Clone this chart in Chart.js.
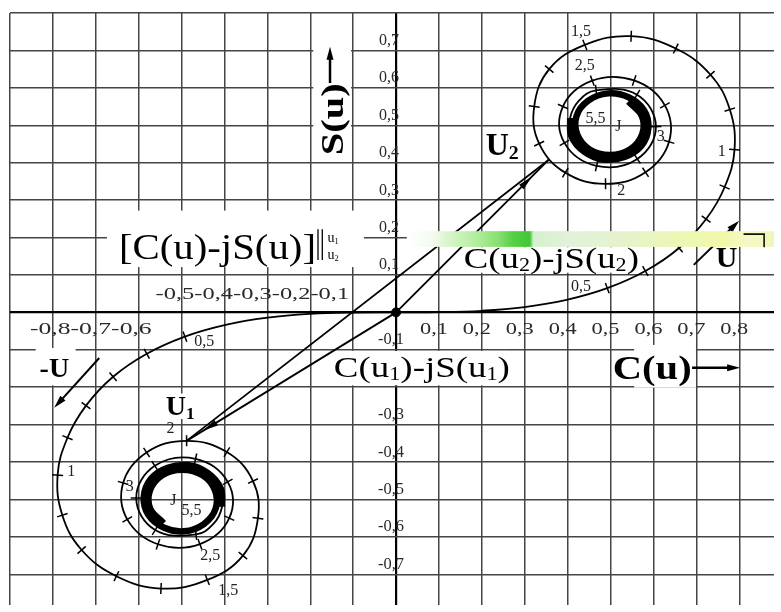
<!DOCTYPE html>
<html>
<head>
<meta charset="utf-8">
<title>Спираль Корню</title>
<script src="https://cdn.jsdelivr.net/npm/chart.js@4.4.1/dist/chart.umd.min.js"></script>
<style>
  html, body { margin: 0; padding: 0; background: #fff; }
  #wrap { width: 781px; height: 612px; }
</style>
</head>
<body>
<div id="wrap"><canvas id="cornu" width="781" height="612"></canvas></div>
<script>
// Fresnel integrals C(u), S(u) along the spiral for u >= 0; the u < 0 branch is its point mirror.
// Past u = 3.2 the spiral winds fast, so the step is halved there.
const uValues = [0.0, 0.1, 0.2, 0.3, 0.4, 0.5, 0.6, 0.7, 0.8, 0.9,
                 1.0, 1.1, 1.2, 1.3, 1.4, 1.5, 1.6, 1.7, 1.8, 1.9,
                 2.0, 2.1, 2.2, 2.3, 2.4, 2.5, 2.6, 2.7, 2.8, 2.9,
                 3.0, 3.1, 3.2, 3.25, 3.3, 3.35, 3.4, 3.45, 3.5, 3.55,
                 3.6, 3.65, 3.7, 3.75, 3.8, 3.85, 3.9, 3.95, 4.0, 4.05,
                 4.1, 4.15, 4.2];
const cValues = [0.0, 0.0999, 0.1999, 0.2994, 0.3975, 0.4923, 0.5811, 0.6597, 0.7228, 0.766,
                 0.789, 0.778, 0.733, 0.652, 0.548, 0.440, 0.357, 0.322, 0.3336, 0.3945,
                 0.4883, 0.5816, 0.6363, 0.6266, 0.5550, 0.4574, 0.3889, 0.3925, 0.4675, 0.5624,
                 0.6057, 0.5616, 0.4663, 0.4259, 0.4057, 0.4089, 0.4385, 0.4828, 0.5326, 0.5716,
                 0.5880, 0.5780, 0.5420, 0.4940, 0.4481, 0.4207, 0.4223, 0.4510, 0.4984, 0.5451,
                 0.5737, 0.5730, 0.5418];
const sValues = [0.0, 0.0005, 0.0042, 0.0141, 0.0334, 0.0647, 0.1105, 0.1721, 0.2493, 0.335,
                 0.435, 0.542, 0.635, 0.705, 0.738, 0.715, 0.650, 0.550, 0.4509, 0.3734,
                 0.3434, 0.3743, 0.4557, 0.5532, 0.6197, 0.6192, 0.5500, 0.4529, 0.3915, 0.4101,
                 0.4963, 0.5818, 0.5934, 0.5654, 0.5193, 0.4703, 0.4297, 0.4086, 0.4153, 0.4449,
                 0.4923, 0.5403, 0.5750, 0.5852, 0.5656, 0.5250, 0.4752, 0.4355, 0.4205, 0.4352,
                 0.4758, 0.5247, 0.5633];

// the two marked points U1 (u = -2) and U2 (u = 1.85)
const markedU = [-2.0, 1.85];
const markedC = [-0.4883, 0.356];
const markedS = [-0.3434, 0.408];

// grid and axis labels
const xGrid = [-0.9, -0.8, -0.7, -0.6, -0.5, -0.4, -0.3, -0.2, -0.1, 0, 0.1, 0.2, 0.3, 0.4, 0.5, 0.6, 0.7, 0.8];
const yGrid = [-0.7, -0.6, -0.5, -0.4, -0.3, -0.2, -0.1, 0, 0.1, 0.2, 0.3, 0.4, 0.5, 0.6, 0.7, 0.8];
const xRightValues = [0.1, 0.2, 0.3, 0.4, 0.5, 0.6, 0.7, 0.8];
const xRightLabels = ['0,1', '0,2', '0,3', '0,4', '0,5', '0,6', '0,7', '0,8'];
const xNearLabels = ['-0,5', '-0,4', '-0,3', '-0,2', '-0,1'];
const xFarLabels = ['-0,8', '-0,7', '-0,6'];
const yUpValues = [0.1, 0.2, 0.3, 0.4, 0.5, 0.6, 0.7];
const yUpLabels = ['0,1', '0,2', '0,3', '0,4', '0,5', '0,6', '0,7'];
const yDownValues = [-0.1, -0.3, -0.4, -0.5, -0.6, -0.7];
const yDownLabels = ['-0,1', '-0,3', '-0,4', '-0,5', '-0,6', '-0,7'];

// parameter values written beside the spiral
const tagText = ['0,5', '1', '1,5', '2', '2,5', '3', '5,5', 'J'];
const tagUpperC = [0.431, 0.759, 0.431, 0.525, 0.440, 0.617, 0.465, 0.518];
const tagUpperS = [0.069, 0.430, 0.750, 0.325, 0.658, 0.470, 0.518, 0.496];
const tagLowerC = [-0.447, -0.757, -0.391, -0.526, -0.433, -0.621, -0.477, -0.519];
const tagLowerS = [-0.079, -0.425, -0.745, -0.312, -0.650, -0.465, -0.531, -0.504];

const FAMILY = '"Liberation Serif", "Times New Roman", serif';

const spiralPos = uValues.map((u, i) => ({ x: cValues[i], y: sValues[i] }));
const spiralNeg = uValues.map((u, i) => ({ x: -cValues[i], y: -sValues[i] })).reverse();
const spiral = spiralNeg.concat(spiralPos.slice(1));

// tightly wound part near the limit points is drawn heavy
const coreFrom = uValues.findIndex(u => u > 3.27);
const corePos = spiralPos.slice(coreFrom);
const coreNeg = corePos.map(p => ({ x: -p.x, y: -p.y }));

// short cross marks every 0.1 of u
const tickMarks = [];
uValues.forEach((u, i) => {
  const tenth = Math.abs(u * 10 - Math.round(u * 10)) < 1e-6;
  if (!tenth || u < 0.45 || u > 3.25) return;
  tickMarks.push({ x: cValues[i], y: sValues[i], i });
  tickMarks.push({ x: -cValues[i], y: -sValues[i], i });
});

const origin = { x: 0, y: 0 };
const p1 = { x: markedC[0], y: markedS[0] };
const p2 = { x: markedC[1], y: markedS[1] };

function drawRich(ctx, parts, x, y, o) {
  const size = o.size, weight = o.weight || 'normal';
  let natural = 0;
  const widths = parts.map(([t, k]) => {
    ctx.font = `${weight} ${size * k}px ${FAMILY}`;
    const w = ctx.measureText(t).width;
    natural += w;
    return w;
  });
  const sx = o.width ? o.width / natural : 1;
  ctx.save();
  ctx.translate(x, y);
  if (o.angle) ctx.rotate(o.angle * Math.PI / 180);
  ctx.scale(sx, 1);
  let cx = o.align === 'center' ? -natural / 2 : 0;
  ctx.fillStyle = o.color || '#000';
  ctx.textAlign = 'left';
  ctx.textBaseline = o.baseline || 'alphabetic';
  parts.forEach(([t, k, dy], j) => {
    ctx.font = `${weight} ${size * k}px ${FAMILY}`;
    ctx.fillText(t, cx, (dy || 0) * size);
    cx += widths[j];
  });
  ctx.restore();
}

function arrowHead(ctx, tx, ty, dx, dy, len, half) {
  const d = Math.hypot(dx, dy);
  const ux = dx / d, uy = dy / d;
  ctx.beginPath();
  ctx.moveTo(tx, ty);
  ctx.lineTo(tx - ux * len - uy * half, ty - uy * len + ux * half);
  ctx.lineTo(tx - ux * len + uy * half, ty - uy * len - ux * half);
  ctx.closePath();
  ctx.fill();
}

// labels in data coordinates (left end of the baseline)
const notes = [
  { parts: [['[C(u)-jS(u)]', 1]], c: -0.646, s: 0.143, size: 35, width: 197 },
  { parts: [['u', 1], ['1', 0.6, 0.15]], c: -0.160, s: 0.187, size: 14 },
  { parts: [['u', 1], ['2', 0.6, 0.15]], c: -0.160, s: 0.143, size: 14 },
  { parts: [['S(u)', 1]], c: -0.124, s: 0.420, size: 31, weight: 'bold', width: 72, angle: -90 },
  { parts: [['U', 1], ['2', 0.62, 0.12]], c: 0.209, s: 0.420, size: 32, weight: 'bold' },
  { parts: [['U', 1], ['1', 0.62, 0.12]], c: -0.537, s: -0.275, size: 28, weight: 'bold' },
  { parts: [['-U', 1]], c: -0.831, s: -0.174, size: 28, weight: 'bold' },
  { parts: [['U', 1]], c: 0.745, s: 0.121, size: 30, weight: 'bold' },
  { parts: [['C(u', 1], ['2', 0.6, 0.1], [')-jS(u', 1], ['2', 0.6, 0.1], [')', 1]], c: 0.158, s: 0.119, size: 30, width: 175 },
  { parts: [['C(u', 1], ['1', 0.6, 0.1], [')-jS(u', 1], ['1', 0.6, 0.1], [')', 1]], c: -0.145, s: -0.172, size: 30, width: 176 },
  { parts: [['C(u)', 1]], c: 0.505, s: -0.177, size: 34, weight: 'bold', width: 79 }
];

// white patches behind the labels [c0, s0, c1, s1]
const patches = [
  [-0.674, 0.272, -0.075, 0.121],
  [-0.193, 0.716, -0.105, 0.412],
  [0.555, -0.087, 0.699, -0.201],
  [-0.145, -0.103, 0.262, -0.195],
  [0.154, 0.174, 0.567, 0.106],
  [-0.542, -0.217, -0.461, -0.285],
  [-0.840, -0.095, -0.747, -0.195]
];

// direction arrows [c0, s0, c1, s1, lineWidth]
const arrows = [
  [0.694, 0.127, 0.800, 0.245, 2],
  [-0.692, -0.122, -0.797, -0.255, 2],
  [0.690, -0.148, 0.802, -0.148, 2.5],
  [-0.154, 0.613, -0.154, 0.710, 2.5]
];

const annotate = {
  id: 'annotate',
  beforeDraw(chart) {
    const ctx = chart.ctx;
    ctx.save();
    ctx.fillStyle = '#fff';
    ctx.fillRect(0, 0, chart.width, chart.height);
    ctx.restore();
  },
  beforeDatasetsDraw(chart) {
    const { ctx, scales: { x, y } } = chart;
    ctx.save();
    ctx.fillStyle = '#fff';
    patches.forEach(([c0, s0, c1, s1]) => {
      const x0 = x.getPixelForValue(c0), y0 = y.getPixelForValue(s0);
      ctx.fillRect(x0, y0, x.getPixelForValue(c1) - x0, y.getPixelForValue(s1) - y0);
    });
    ctx.restore();
  },
  afterDatasetsDraw(chart) {
    const { ctx, scales: { x, y } } = chart;
    const X = v => x.getPixelForValue(v), Y = v => y.getPixelForValue(v);
    ctx.save();
    ctx.fillStyle = '#000';
    ctx.strokeStyle = '#000';

    // arrowheads on the vectors from the origin
    [[p1, 0.92], [p2, 0.89]].forEach(([p, t]) => {
      const dx = X(p.x) - X(0), dy = Y(p.y) - Y(0);
      arrowHead(ctx, X(0) + dx * t, Y(0) + dy * t, dx, dy, 15, 3.2);
    });

    arrows.forEach(([c0, s0, c1, s1, w]) => {
      const x0 = X(c0), y0 = Y(s0), x1 = X(c1), y1 = Y(s1);
      const d = Math.hypot(x1 - x0, y1 - y0);
      ctx.lineWidth = w;
      ctx.beginPath();
      ctx.moveTo(x0, y0);
      ctx.lineTo(x1 - (x1 - x0) / d * 8, y1 - (y1 - y0) / d * 8);
      ctx.stroke();
      arrowHead(ctx, x1, y1, x1 - x0, y1 - y0, 13, 3.5);
    });

    notes.forEach(n => drawRich(ctx, n.parts, X(n.c), Y(n.s), n));

    // double bar of the bracketed difference
    ctx.lineWidth = 1.3;
    [-0.182, -0.172].forEach(c => {
      ctx.beginPath();
      ctx.moveTo(X(c), Y(0.222));
      ctx.lineTo(X(c), Y(0.140));
      ctx.stroke();
    });

    // axis numbers
    const tickStyle = { size: 17, color: '#2a2a2a', align: 'center', baseline: 'middle' };
    xRightValues.forEach((v, i) =>
      drawRich(ctx, [[xRightLabels[i], 1]], X(v) - 5, Y(0) + 17, { ...tickStyle, width: 28 }));
    drawRich(ctx, [[xNearLabels.join(''), 1]], (X(-0.5) - 26 + X(-0.1) - 4) / 2, Y(0) - 18,
      { ...tickStyle, width: X(-0.1) - X(-0.5) + 22 });
    drawRich(ctx, [[xFarLabels.join(''), 1]], (X(-0.8) - 23 + X(-0.6) + 13) / 2, Y(0) + 17,
      { ...tickStyle, width: X(-0.6) - X(-0.8) + 36 });
    yUpValues.forEach((v, i) =>
      drawRich(ctx, [[yUpLabels[i], 1]], X(0) - 7, Y(v) - 10, { ...tickStyle, width: 20 }));
    yDownValues.forEach((v, i) =>
      drawRich(ctx, [[yDownLabels[i], 1]], X(0) - 5, Y(v) - 10, { ...tickStyle, width: 26 }));

    // parameter values on both branches
    const tagStyle = { size: 16, color: '#222', align: 'center', baseline: 'middle' };
    tagText.forEach((t, i) => {
      drawRich(ctx, [[t, 1]], X(tagUpperC[i]), Y(tagUpperS[i]), tagStyle);
      drawRich(ctx, [[t, 1]], X(tagLowerC[i]), Y(tagLowerS[i]), tagStyle);
    });
    ctx.restore();
  },
  afterDraw(chart) {
    const { ctx, chartArea, scales: { x, y } } = chart;
    const X = v => x.getPixelForValue(v), Y = v => y.getPixelForValue(v);
    // coloured strip across the right half
    const x0 = X(0.025), x1 = chartArea.right, y0 = Y(0.217), y1 = Y(0.175);
    const g = ctx.createLinearGradient(x0, 0, x1, 0);
    [[0, '#ffffff'], [0.07, '#f3fbef'], [0.11, '#d9f6cc'], [0.19, '#b3ee9b'], [0.25, '#86e070'],
     [0.29, '#55d044'], [0.335, '#42c735'], [0.345, '#d6f0cf'], [0.45, '#e2f2da'], [0.6, '#e5f3cb'],
     [0.75, '#edf7b2'], [0.86, '#f1f8a8'], [0.93, '#f5f9c5'], [1, '#eff6b6']]
      .forEach(([f, col]) => g.addColorStop(f, col));
    ctx.save();
    ctx.fillStyle = g;
    ctx.fillRect(x0, y0, x1 - x0, y1 - y0);
    ctx.strokeStyle = '#111';
    ctx.lineWidth = 1.6;
    ctx.beginPath();
    ctx.moveTo(X(0.81), Y(0.209));
    ctx.lineTo(X(0.858), Y(0.209));
    ctx.lineTo(X(0.858), Y(0.174));
    ctx.stroke();
    ctx.restore();
  }
};

const gridOpts = {
  color: c => (c.tick && c.tick.value === 0 ? '#000' : '#454545'),
  lineWidth: c => (c.tick && c.tick.value === 0 ? 2.2 : 1.5),
  drawTicks: false
};

new Chart(document.getElementById('cornu'), {
  type: 'scatter',
  data: {
    datasets: [
      { data: spiral, showLine: true, borderColor: '#000', borderWidth: 1.8, pointRadius: 0, tension: 0.4 },
      { data: corePos, showLine: true, borderColor: '#000', borderWidth: 6.5, pointRadius: 0, tension: 0.4 },
      { data: coreNeg, showLine: true, borderColor: '#000', borderWidth: 6.5, pointRadius: 0, tension: 0.4 },
      {
        data: tickMarks, showLine: false, pointStyle: 'line', pointRadius: 5.5,
        pointBorderColor: '#000', pointBorderWidth: 1.5,
        pointRotation: ctx => {
          const i = ctx.raw.i, sc = ctx.chart.scales;
          const dx = sc.x.getPixelForValue(cValues[i + 1]) - sc.x.getPixelForValue(cValues[i - 1]);
          const dy = sc.y.getPixelForValue(sValues[i + 1]) - sc.y.getPixelForValue(sValues[i - 1]);
          return Math.atan2(dy, dx) * 180 / Math.PI + 90;
        }
      },
      { data: [origin, p1], showLine: true, borderColor: '#000', borderWidth: 1.8, pointRadius: 0 },
      { data: [origin, p2], showLine: true, borderColor: '#000', borderWidth: 1.8, pointRadius: 0 },
      { data: [p1, p2], showLine: true, borderColor: '#000', borderWidth: 1.8, pointRadius: 0 },
      { data: [origin], pointRadius: 4.5, pointBackgroundColor: '#000', pointBorderColor: '#000' }
    ]
  },
  options: {
    responsive: false,
    animation: false,
    events: [],
    devicePixelRatio: 1,
    layout: { padding: { left: 10, top: 13, right: 0, bottom: 0 } },
    plugins: { legend: { display: false }, tooltip: { enabled: false } },
    scales: {
      x: {
        type: 'linear', min: -0.9, max: 0.881,
        afterBuildTicks: axis => { axis.ticks = xGrid.map(v => ({ value: v })); },
        ticks: { display: false },
        grid: gridOpts,
        border: { display: false }
      },
      y: {
        type: 'linear', min: -0.782, max: 0.8,
        afterBuildTicks: axis => { axis.ticks = yGrid.map(v => ({ value: v })); },
        ticks: { display: false },
        grid: gridOpts,
        border: { display: false }
      }
    }
  },
  plugins: [annotate]
});
</script>
</body>
</html>
